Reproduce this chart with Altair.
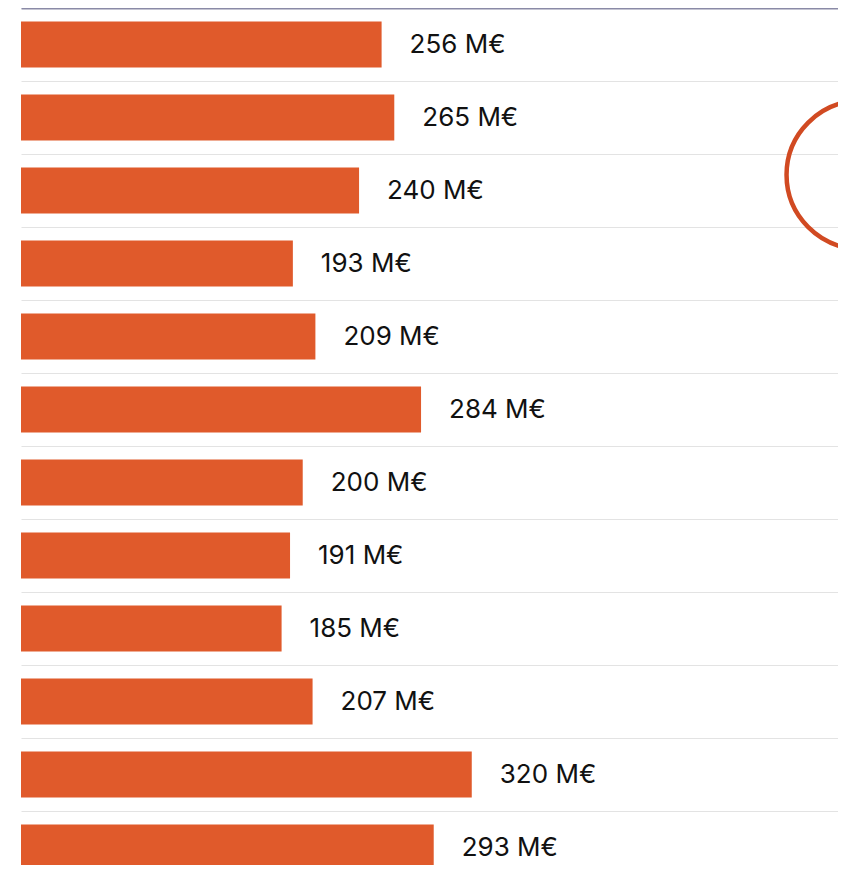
import altair as alt
import pandas as pd

# Data
categories = ["janv.", "févr.", "mars", "avr.", "mai", "juin",
              "juil.", "août", "sept.", "oct.", "nov.", "déc."]
values = [256, 265, 240, 193, 209, 284, 200, 191, 185, 207, 320, 293]
unit = "M€"

# Annotation ring (partly outside the view on the right)
ring_value = [596]
ring_category = ["mars"]

df = pd.DataFrame({"cat": categories, "value": values})
df["label"] = [f"{v} {unit}" for v in values]
ring_df = pd.DataFrame({"cat": ring_category, "value": ring_value})

BAR = "#E05A2B"
RING = "#D14A22"

y_scale = alt.Scale(range=[0, 876], paddingInner=0.37, paddingOuter=0.185)
y_axis = alt.Axis(labels=False, ticks=False, domain=False, title=None,
                  grid=True, gridColor="#e3e3e3", gridWidth=1,
                  bandPosition=0, tickOffset=-13.5)
x_scale = alt.Scale(domain=[0, 580], nice=False)
x_axis = alt.Axis(orient="top", labels=False, ticks=False, grid=False, title=None,
                  domain=True, domainColor="#8a8aa6", domainWidth=2)

y_enc = alt.Y("cat:N", sort=categories, scale=y_scale, axis=y_axis)
x_enc = alt.X("value:Q", scale=x_scale, axis=x_axis)

bars = alt.Chart(df).mark_bar(color=BAR, cornerRadius=0).encode(x=x_enc, y=y_enc)

text = alt.Chart(df).mark_text(
    align="left", baseline="middle", dx=28, font="Inter", fontSize=26,
    color="#111111"
).encode(x=x_enc, y=y_enc, text="label:N")

ring = alt.Chart(ring_df).mark_point(
    shape="circle", filled=False, size=21904, stroke=RING, strokeWidth=4.5,
    opacity=1
).encode(
    x=x_enc,
    y=alt.Y("cat:N", sort=categories, scale=y_scale, axis=y_axis, bandPosition=0.16),
)

chart = alt.layer(bars, text, ring).properties(
    width=817, height=857,
    padding={"left": 13, "top": 0, "right": 0, "bottom": 0},
    autosize=alt.AutoSizeParams(type="none"),
).configure_view(stroke=None)

chart.save("out.html", embed_options={"renderer": "svg", "actions": False})
